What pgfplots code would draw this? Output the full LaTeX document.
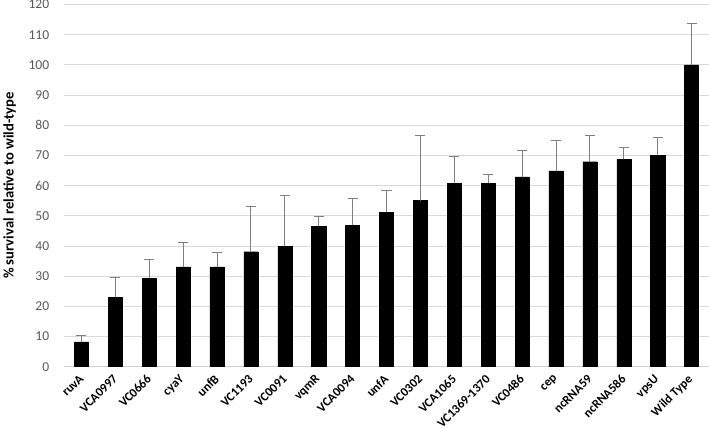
\documentclass[border=0pt]{standalone}
\usepackage{fontspec}
\setmainfont{Carlito}
\usepackage{pgfplots}
\pgfplotsset{compat=1.18}
\newcommand{\rl}[1]{\rotatebox{45}{#1}}
\begin{document}
\begin{tikzpicture}
\begin{axis}[
  scale only axis, width=640pt, height=360pt,
  xmin=-0.5, xmax=18.5, ymin=0, ymax=120,
  axis lines*=left,
  y axis line style={draw=none},
  x axis line style={black!18, line width=0.9pt, -},
  major tick length=0pt,
  ybar, bar width=14pt,
  ytick={0,10,...,120},
  xtick={0,...,18},
  xticklabels={\rl{ruvA},\rl{VCA0997},\rl{VC0666},\rl{cyaY},\rl{unfB},\rl{VC1193},\rl{VC0091},\rl{vqmR},\rl{VCA0094},\rl{unfA},\rl{VC0302},\rl{VCA1065},\rl{VC1369-1370},\rl{VC0486},\rl{cep},\rl{ncRNA59},\rl{ncRNA586},\rl{vpsU},\rl{Wild Type}},
  xticklabel style={font=\fontsize{12.5}{14}\selectfont\bfseries, inner sep=0pt, anchor=north east, yshift=-7pt, xshift=3pt},
  yticklabel style={font=\fontsize{13.5}{16}\selectfont, text=black!65, inner sep=0pt, xshift=-15pt},
  /pgf/number format/assume math mode=true,
  ylabel={\fontsize{14.5}{17}\selectfont\bfseries \% survival relative to wild-type},
  ylabel style={yshift=9pt},
  ymajorgrids, grid style={black!15, line width=0.9pt},
]
\addplot[fill=black, draw=black,
  error bars/.cd, y dir=plus, y explicit,
  error bar style={black!50, line width=0.9pt},
  error mark options={black!50, rotate=90, mark size=5pt, line width=0.9pt}]
table[x=x, y=y, y error=e] {
x y e
0 8.2 2.1
1 23.0 6.5
2 29.3 6.3
3 33.1 8.0
4 33.1 4.9
5 38.1 14.9
6 39.9 16.7
7 46.5 3.4
8 46.8 9.1
9 51.1 7.2
10 55.0 21.7
11 60.7 9.1
12 60.7 2.9
13 62.9 8.8
14 64.9 10.2
15 67.9 8.8
16 68.7 4.1
17 70.0 5.9
18 100.0 13.8
};
\end{axis}
\end{tikzpicture}
\end{document}
